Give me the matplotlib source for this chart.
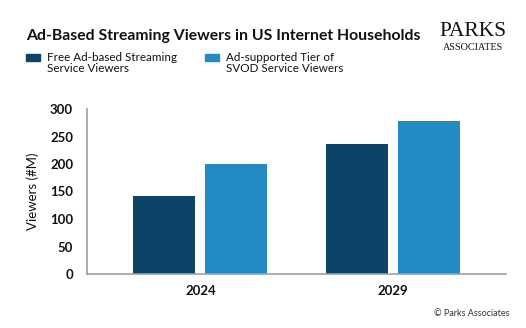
import matplotlib
matplotlib.use("Agg")
import matplotlib.pyplot as plt
import numpy as np

years = ["2024", "2029"]
free_ad = [142, 237]
svod_ad = [200, 279]
series_names = ["Free Ad-based Streaming\nService Viewers", "Ad-supported Tier of\nSVOD Service Viewers"]
yticks = [0, 50, 100, 150, 200, 250, 300]

dark = "#0e4368"
light = "#238bc4"
FONT = "Lato"

fig = plt.figure(figsize=(5.26, 3.28), dpi=100)
W, H = 526, 328
ax = fig.add_axes([87 / W, 1 - 274 / H, 419 / W, 165 / H])

x = np.arange(len(years))
bw = 0.323
off = 0.1875
ax.bar(x - off, free_ad, bw, color=dark)
ax.bar(x + off, svod_ad, bw, color=light)

ax.set_xlim(-0.59, 1.59)
ax.set_ylim(0, 300)
ax.set_yticks(yticks)
ax.set_yticklabels([str(v) for v in yticks], fontfamily=FONT, fontweight="bold", fontsize=9.5, color="#111111")
ax.set_xticks(x)
ax.set_xticklabels(years, fontfamily=FONT, fontweight="bold", fontsize=9.5, color="#111111")
ax.tick_params(axis="both", length=0)
ax.tick_params(axis="y", pad=10)
ax.tick_params(axis="x", pad=8)
for s in ["top", "right"]:
    ax.spines[s].set_visible(False)
for s in ["left", "bottom"]:
    ax.spines[s].set_color("#a0a0a0")
    ax.spines[s].set_linewidth(1.2)
ax.set_ylabel("Viewers (#M)", fontfamily=FONT, fontsize=9.5, color="#111111", labelpad=8)

fig.text(26 / W, 1 - 36 / H, "Ad-Based Streaming Viewers in US Internet Households",
         fontfamily=FONT, fontweight="bold", fontsize=11.3, color="#111111", va="center", ha="left")

# legend
for i, (name, col) in enumerate(zip(series_names, [dark, light])):
    x0 = [26, 205][i]
    fig.patches.append(matplotlib.patches.Rectangle((x0 / W, 1 - 61 / H), 14 / W, 7 / H,
                                                    transform=fig.transFigure, color=col))
    fig.text((x0 + 21) / W, 1 - 52 / H, name, fontfamily=FONT, fontsize=8.4, color="#111111",
             va="top", ha="left", linespacing=0.95)

fig.text(473 / W, 1 - 31 / H, "PARKS", fontfamily="Liberation Serif", fontsize=15.5,
         color="#111111", ha="center", va="center")
fig.text(473 / W, 1 - 47 / H, "ASSOCIATES", fontfamily="Liberation Serif", fontsize=7.3,
         color="#111111", ha="center", va="center")
fig.text(510 / W, 1 - 314 / H, "© Parks Associates", fontfamily=FONT, fontsize=6.5,
         color="#333333", ha="right", va="center")

fig.savefig("out.png", dpi=100)
